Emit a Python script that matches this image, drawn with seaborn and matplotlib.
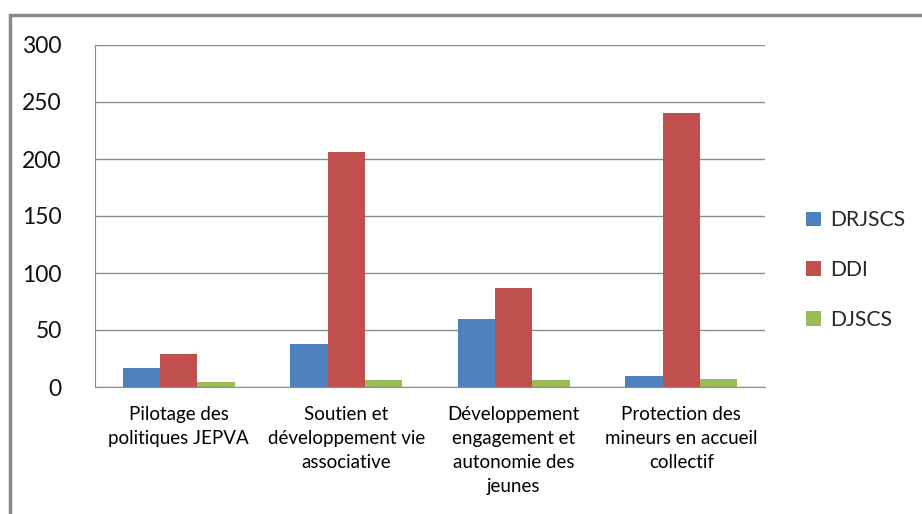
import matplotlib
matplotlib.use("Agg")
import matplotlib.pyplot as plt
import seaborn as sns
import pandas as pd
from matplotlib.patches import Rectangle

categories = ["Pilotage des\npolitiques JEPVA",
              "Soutien et\ndéveloppement vie\nassociative",
              "Développement\nengagement et\nautonomie des\njeunes",
              "Protection des\nmineurs en accueil\ncollectif"]
series = ["DRJSCS", "DDI", "DJSCS"]
drjscs = [17, 38, 60, 10]
ddi = [29, 206, 87, 240]
djscs = [4, 6, 6, 7]
colors = ["#4F81BD", "#C0504D", "#9BBB59"]
yticks = [0, 50, 100, 150, 200, 250, 300]

df = pd.DataFrame({
    "cat": categories * 3,
    "series": [series[0]] * 4 + [series[1]] * 4 + [series[2]] * 4,
    "value": drjscs + ddi + djscs,
})

sns.set_style("white")
plt.rcParams["font.family"] = ["Lato", "DejaVu Sans"]

fig = plt.figure(figsize=(9.22, 5.14), dpi=100)
ax = fig.add_axes([95 / 922, 1 - 387 / 514, 670 / 922, 342 / 514])

sns.barplot(data=df, x="cat", y="value", hue="series", palette=colors,
            width=0.67, gap=0, saturation=1, ax=ax, legend=True)

ax.set_ylim(0, 300)
ax.set_xlim(-0.5, 3.5)
ax.set_yticks(yticks)
ax.set_yticklabels([str(v) for v in yticks], fontsize=16.5, color="#111111")
ax.yaxis.grid(True, color="#8c8c8c", linewidth=1)
ax.set_axisbelow(True)
ax.set_xlabel("")
ax.set_ylabel("")
for s in ["top", "right"]:
    ax.spines[s].set_visible(False)
ax.spines["left"].set_color("#8c8c8c")
ax.spines["bottom"].set_color("#8c8c8c")
ax.tick_params(axis="y", length=8, color="#8c8c8c", pad=16)

ax.set_xticks([-0.5, 0.5, 1.5, 2.5, 3.5], minor=False)
ax.set_xticklabels([])
ax.tick_params(axis="x", which="major", length=8, color="#8c8c8c")
ax.set_xticks([0, 1, 2, 3], minor=True)
ax.set_xticklabels(categories, minor=True, fontsize=13.5, color="#000000",
                   linespacing=1.5, va="top")
ax.tick_params(axis="x", which="minor", length=0, pad=14)

for bar in ax.patches:
    bar.set_edgecolor("none")

handles, labels = ax.get_legend_handles_labels()
leg = ax.legend(handles, labels, loc="center left",
                bbox_to_anchor=(1.033, 0.342), frameon=False, fontsize=15.2,
                handlelength=0.7, handleheight=0.7, labelspacing=1.4,
                handletextpad=0.45)

fig.patches.append(Rectangle((10 / 922, -0.05), 1.2, 1 - 15 / 514 + 0.05,
                             transform=fig.transFigure, fill=False,
                             edgecolor="#8a8a8a", linewidth=2.5))

fig.savefig("out.png", dpi=100)
